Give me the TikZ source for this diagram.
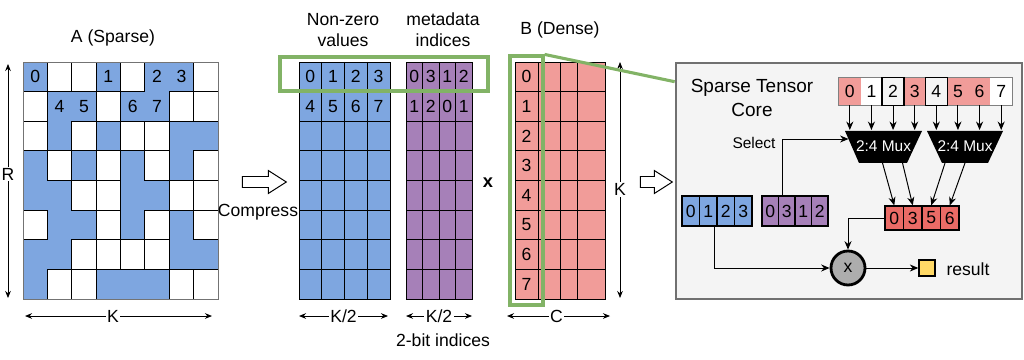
\documentclass[tikz,border=0pt]{standalone}
\usepackage{fontspec}
\setmainfont{Liberation Sans}
\usetikzlibrary{arrows.meta,positioning,calc,shapes.arrows}
\definecolor{ablue}{HTML}{7EA6E0}
\definecolor{mpurple}{HTML}{A680B8}
\definecolor{bpink}{HTML}{F19C99}
\definecolor{ored}{HTML}{EA6B66}
\definecolor{ryellow}{HTML}{FFD966}
\definecolor{selgreen}{HTML}{82B366}
\definecolor{corefill}{HTML}{F4F4F4}
\definecolor{coreline}{HTML}{707070}
\tikzset{
  gridline/.style={draw=black, line width=0.7pt},
  dimarrow/.style={{Stealth[length=5pt,width=4pt]}-{Stealth[length=5pt,width=4pt]}, line width=0.6pt},
  dimlabel/.style={fill=white, inner sep=1pt},
  hollow/.style={single arrow, draw, fill=white, line width=0.7pt, inner sep=0.125cm,
    single arrow head extend=0.15cm, single arrow tip angle=65},
  selbox/.style={draw=selgreen, line width=2.2pt},
  tcell/.style={minimum height=0.675cm, minimum width=0.54cm, inner sep=0pt},
  ocell/.style={draw, fill=ored, line width=0.8pt, minimum height=0.6cm, minimum width=0.4625cm, inner sep=0pt},
  bcell/.style={draw, fill=ablue, line width=0.8pt, minimum height=0.75cm, minimum width=0.4375cm, inner sep=0pt},
  pcell/.style={draw, fill=mpurple, line width=0.8pt, minimum height=0.75cm, minimum width=0.4125cm, inner sep=0pt},
  flow/.style={-{Stealth[length=6pt,width=5pt]}, line width=0.7pt},
  muxlabel/.style={text=white, inner sep=0pt, font=\fontsize{11}{13}\selectfont},
}
\begin{document}
\begin{tikzpicture}[x=0.025cm, y=-0.025cm, font=\fontsize{12.5}{15}\selectfont]
    \useasboundingbox (0,0) rectangle (1024,360);
    \def\aw{24.375}
    \def\rh{29.625}

    % A (sparse)
    \fill[ablue] (23,62) rectangle (218,299);
    \foreach \r/\cl in {0/{1,2,4,7},1/{0,3,6,7},2/{0,2,4,5},3/{1,3,5,7},4/{2,3,6,7},5/{0,3,5,7},6/{2,3,4,5},7/{1,2,6,7}}
        \foreach \c in \cl
            \draw[gridline, fill=white] ({23+\aw*\c},{62+\rh*\r}) rectangle ++(\aw,\rh);
    \draw[draw=black!55, line width=0.7pt] (23,62) rectangle (218,299);
    \foreach \n/\r/\c in {0/0/0,1/0/3,2/0/5,3/0/6,4/1/1,5/1/2,6/1/4,7/1/5}
        \node(a\n) at ({23+\aw*(\c+0.5)},{62+\rh*(\r+0.5)}) {\n};
    \node(atitle) at (113,38) {A (Sparse)};
    \coordinate (rtop) at (8,64);
    \coordinate (rbot) at (8,298);
    \draw[dimarrow] (rtop) -- (rbot) node[dimlabel, pos=0.47] {R};
    \coordinate (kleft) at (25,316);
    \coordinate (kright) at (212,316);
    \draw[dimarrow] (kleft) -- (kright) node[dimlabel, pos=0.47] {K};

    \node(compress) [hollow, minimum height=1.1cm, minimum width=0.55cm] at (260,182) {};
    \node(compresstxt) at (258,212) {Compress};

    % non-zero values
    \fill[ablue] (299,62) rectangle (390,299);
    \foreach \i in {1,2,3}
        \draw[gridline] ({299+22.75*\i},62) -- ++(0,237);
    \foreach \j in {1,...,7}
        \draw[gridline] (299,{62+\rh*\j}) -- ++(91,0);
    \draw[gridline] (299,62) rectangle (390,299);
    \foreach \v [count=\c from 0] in {0,1,2,3}
        \node(nz0\c) at ({299+22.75*(\c+0.5)},{62+\rh*0.5}) {\v};
    \foreach \v [count=\c from 0] in {4,5,6,7}
        \node(nz1\c) at ({299+22.75*(\c+0.5)},{62+\rh*1.5}) {\v};
    \node(nztitle) [align=center] at (343,30) {Non-zero\\values};
    \coordinate (nzleft) at (299,316);
    \coordinate (nzright) at (388,316);
    \draw[dimarrow] (nzleft) -- (nzright) node[dimlabel, midway] {K/2};

    % metadata
    \fill[mpurple] (406,62) rectangle (472,299);
    \foreach \i in {1,2,3}
        \draw[gridline] ({406+16.5*\i},62) -- ++(0,237);
    \foreach \j in {1,...,7}
        \draw[gridline] (406,{62+\rh*\j}) -- ++(66,0);
    \draw[gridline] (406,62) rectangle (472,299);
    \foreach \v [count=\c from 0] in {0,3,1,2}
        \node(md0\c) [inner sep=0pt] at ({406+16.5*(\c+0.5)},{62+\rh*0.5}) {\v};
    \foreach \v [count=\c from 0] in {1,2,0,1}
        \node(md1\c) [inner sep=0pt] at ({406+16.5*(\c+0.5)},{62+\rh*1.5}) {\v};
    \node(mdtitle) [align=center] at (443,30) {metadata\\indices};
    \coordinate (mdleft) at (406,316);
    \coordinate (mdright) at (472,316);
    \draw[dimarrow] (mdleft) -- (mdright) node[dimlabel, midway] {K/2};
    \node(bits) at (443,340) {2-bit indices};

    \node(times) [font=\fontsize{13}{15}\selectfont\bfseries] at (488,183) {x};

    % B (dense)
    \fill[bpink] (515,62) rectangle (605,299);
    \foreach \x in {538,560,577}
        \draw[gridline] (\x,62) -- (\x,299);
    \foreach \j in {1,...,7}
        \draw[gridline] (515,{62+\rh*\j}) -- (605,{62+\rh*\j});
    \draw[gridline] (515,62) rectangle (605,299);
    \foreach \v in {0,...,7}
        \node(b\v) at (526.5,{62+\rh*(\v+0.5)}) {\v};
    \node(btitle) at (560,30) {B (Dense)};
    \coordinate (ktop) at (620,62);
    \coordinate (kbot) at (620,298);
    \draw[dimarrow] (ktop) -- (kbot) node[dimlabel, pos=0.54] {K};
    \coordinate (cleft) at (507,316);
    \coordinate (cright) at (610,316);
    \draw[dimarrow] (cleft) -- (cright) node[dimlabel, pos=0.48] {C};

    \node(toCore) [hollow, minimum height=0.8cm, minimum width=0.55cm] at (652,182) {};

    % sparse tensor core
    \node(core) [draw=coreline, fill=corefill, line width=1.8pt, minimum width=8.65cm, minimum height=5.9cm] at (849,181) {};
    \node(coretitle) [align=center, font=\fontsize{13.5}{16.5}\selectfont] at (752,98) {Sparse Tensor\\Core};

    \foreach \v/\col in {0/bpink,1/white,2/corefill,3/bpink,4/corefill,5/bpink,6/bpink,7/white}
        \node(t\v) [tcell, fill=\col] at ({839+21.625*(\v+0.5)},91.5) {\v};
    \draw[draw=black!50, line width=0.7pt] (t0.north west) rectangle (t7.south east);
    \draw[line width=1pt] (t2.north west) rectangle (t2.south east);
    \draw[line width=1pt] (t4.north west) rectangle (t4.south east);

    \fill (845,131) -- (922,131) -- (907,163) -- (859,163) -- cycle;
    \fill (927,131) -- (1003,131) -- (988,163) -- (942,163) -- cycle;
    \node(mux1) [muxlabel] at (883.5,146) {2:4 Mux};
    \node(mux2) [muxlabel] at (965,146) {2:4 Mux};
    \coordinate (mux1top) at (883.5,130);
    \coordinate (mux2top) at (965,130);
    \coordinate (mux1bot) at (883.5,163);
    \coordinate (mux2bot) at (965,163);
    \coordinate (mux1sel) at (848.5,139);
    \foreach \v in {0,...,3}
        \draw[flow] (t\v.south) -- (t\v.south |- mux1top);
    \foreach \v in {4,...,7}
        \draw[flow] (t\v.south) -- (t\v.south |- mux2top);

    \foreach \v [count=\i from 0] in {0,3,5,6}
        \node(o\i) [ocell] at ({885+18.5*(\i+0.5)},218) {\v};
    \draw[flow] ($(mux1bot)+(-1,0)$) -- (o0.north);
    \draw[flow] ($(mux1bot)+(19,0)$) -- (o1.north);
    \draw[flow] ($(mux2bot)+(-20,0)$) -- (o2.north);
    \draw[flow] (mux2bot) -- (o3.north);

    \foreach \v [count=\i from 0] in {0,1,2,3}
        \node(c\i) [bcell] at ({682+17.5*(\i+0.5)},211) {\v};
    \foreach \v [count=\i from 0] in {0,3,1,2}
        \node(p\i) [pcell] at ({762+16.5*(\i+0.5)},211) {\v};
    \node(sel) [font=\fontsize{11}{13}\selectfont] at (754,143) {Select};
    \draw[flow] ($(p1.north)+(-4,0)$) |- (mux1sel);

    \node(mul) [circle, draw, line width=2pt, fill=black!32, minimum size=0.85cm, inner sep=0pt] at (848,268) {x};
    \node(res) [draw, fill=ryellow, line width=1pt, minimum size=0.4cm, inner sep=0pt] at (927,268) {};
    \node(restxt) at (968,269) {result};
    \draw[flow] ($(c2.south west)+(-2,0)$) |- (mul.west);
    \draw[flow] (o0.west) -| (mul.north);
    \draw[flow] (mul.east) -- (res.west);

    % selection frames
    \node(nzsel) [selbox, minimum width=5.2cm, minimum height=0.85cm] at (384,74) {};
    \node(bsel) [selbox, minimum width=0.825cm, minimum height=6.225cm] at (526.5,180.5) {};
    \draw[selbox] (bsel.north east) -- ($(core.north west)+(0,20)$);
\end{tikzpicture}
\end{document}
